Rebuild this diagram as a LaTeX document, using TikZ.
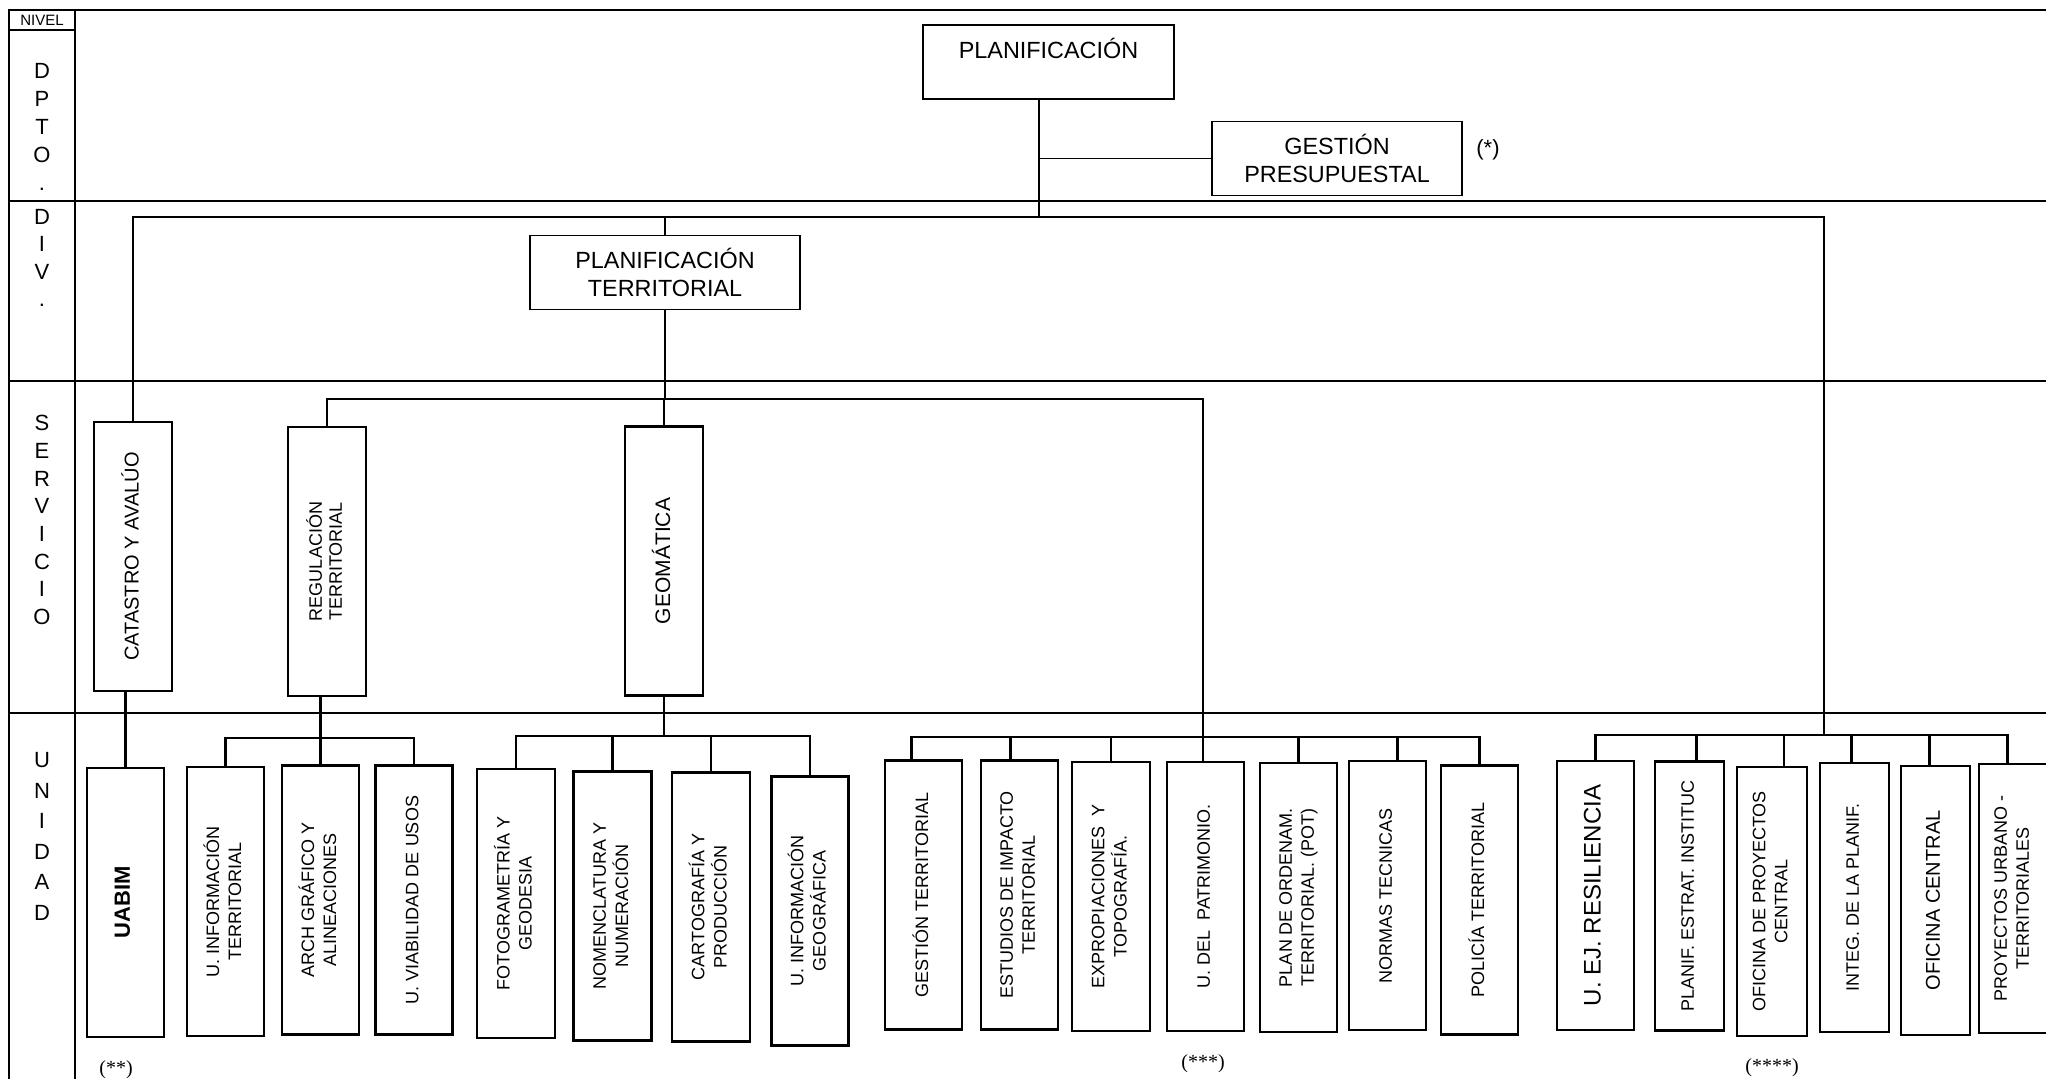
\documentclass[tikz,border=0pt]{standalone}
\usepackage{fontspec}
\setmainfont{Liberation Sans}
\newfontfamily\notefont{Liberation Serif}
\usepackage{graphicx}

\newcommand{\vtext}[1]{\rotatebox{90}{\begin{tabular}{@{}c@{}}#1\end{tabular}}}

\begin{document}
\begin{tikzpicture}[
    x=0.5pt, y=-0.5pt,
    every node/.style={inner sep=0pt},
    gridline/.style={line width=1pt},
    link/.style={line width=1.1pt},
    deptlink/.style={line width=0.8pt},
    deptbox/.style={
        draw,
        line width=0.7pt,
        minimum width=#1,
        minimum height=37pt,
        align=center,
        font=\fontsize{11.7}{13.8}\selectfont
    },
    servbox/.style={
        draw,
        line width=1.1pt,
        minimum width=39pt,
        minimum height=134.5pt,
        font=\fontsize{#1}{10}\selectfont
    },
    unitbox/.style={
        draw,
        line width=1.3pt,
        minimum width=#1,
        minimum height=134.5pt,
        font=\fontsize{9}{11}\selectfont
    },
    unitbox/.default=38.5pt,
    levellabel/.style={
        align=center,
        font=\fontsize{11}{#1}\selectfont
    },
    note/.style={font=\notefont\fontsize{10}{12}\selectfont}
]

    \useasboundingbox (0,0) rectangle (2046,1079);
    \clip (0,0) rectangle (2046,1079);

    % Level grid
    \draw[gridline] (9,1090) -- (9,10) -- (2060,10);
    \draw[gridline] (75,10) -- (75,1090);
    \draw[gridline] (9,30) -- (75,30);
    \foreach \y in {201,381,713}
        \draw[gridline] (9,\y) -- (2060,\y);

    % Level names
    \node[font=\fontsize{7.5}{9}\selectfont] (nivel) at (42,20) {NIVEL};
    \node[levellabel=14] (lvdpto) at (42,127) {D\\P\\T\\O\\.};
    \node[levellabel=13.8] (lvdiv) at (42,258) {D\\I\\V\\.};
    \node[levellabel=13.85] (lvserv) at (42,520) {S\\E\\R\\V\\I\\C\\I\\O};
    \node[levellabel=15.3] (lvunid) at (42,836.5) {U\\N\\I\\D\\A\\D};

    % Department
    \node[deptbox=125.5pt] (plan) at (1048.5,62) {PLANIFICACIÓN\\\mbox{}};
    \node[deptbox=125pt] (gestion) at (1337,158.5) {GESTIÓN\\PRESUPUESTAL};
    \node[font=\fontsize{11}{13}\selectfont] (notea) at (1488,150) {(*)};

    % Division
    \node[deptbox=135pt] (planter) at (665,272.5) {PLANIFICACIÓN\\TERRITORIAL};

    % Services
    \node[servbox=10] (catastro) at (133,556.5) {\vtext{CATASTRO Y AVALÚO}};
    \node[servbox=9] (regul) at (327,561.5) {\vtext{REGULACIÓN\\TERRITORIAL}};
    \node[servbox=10.5] (geom) at (664,561) {\vtext{GEOMÁTICA}};

    % Units under catastro and regulacion
    \node[unitbox] (uabim) at (125.5,902.5) {\vtext{\fontsize{11}{13}\selectfont\bfseries UABIM}};
    \node[unitbox] (uinf) at (225.5,901.5) {\vtext{U. INFORMACIÓN\\TERRITORIAL}};
    \node[unitbox] (arch) at (320.5,900) {\vtext{ARCH GRÁFICO Y\\ALINEACIONES}};
    \node[unitbox] (viab) at (414,900) {\vtext{U. VIABILIDAD DE USOS}};

    % Units under geomatica
    \node[unitbox=39pt] (foto) at (516,903.5) {\vtext{FOTOGRAMETRÍA Y\\GEODESIA}};
    \node[unitbox=39pt] (nomen) at (612.5,906) {\vtext{NOMENCLATURA Y\\NUMERACIÓN}};
    \node[unitbox=39pt] (carto) at (711,907) {\vtext{CARTOGRAFÍA Y\\PRODUCCIÓN}};
    \node[unitbox] (uig) at (810,911) {\vtext{U. INFORMACIÓN\\GEOGRÁFICA}};

    % Units under planificacion territorial
    \node[unitbox] (gestter) at (923.5,895) {\vtext{GESTIÓN TERRITORIAL}};
    \node[unitbox] (estud) at (1019.5,895) {\vtext{ESTUDIOS DE IMPACTO\\TERRITORIAL}};
    \node[unitbox=39pt] (expro) at (1111,896.5) {\vtext{EXPROPIACIONES\ \ Y\\TOPOGRAFÍA.}};
    \node[unitbox] (patri) at (1205.5,896.5) {\vtext{U. DEL\ \ PATRIMONIO.}};
    \node[unitbox] (planord) at (1298.5,897.5) {\vtext{PLAN DE ORDENAM.\\TERRITORIAL. (POT)}};
    \node[unitbox] (normas) at (1387.5,895.5) {\vtext{NORMAS TECNICAS}};
    \node[unitbox] (policia) at (1479.5,900) {\vtext{POLICÍA TERRITORIAL}};

    % Units on the right branch
    \node[unitbox] (resil) at (1595.5,895.5) {\vtext{\fontsize{12}{14}\selectfont U. EJ. RESILIENCIA}};
    \node[unitbox=34.5pt] (pestrat) at (1689.5,896) {\vtext{PLANIF. ESTRAT. INSTITUC}};
    \node[unitbox=35pt] (ofproy) at (1772,901.5) {\vtext{OFICINA DE PROYECTOS\\CENTRAL}};
    \node[unitbox=34.5pt] (integ) at (1854.5,897.5) {\vtext{INTEG. DE LA PLANIF.}};
    \node[unitbox=34.5pt] (ofcen) at (1935.5,900.5) {\vtext{\fontsize{10}{12}\selectfont OFICINA CENTRAL}};
    \node[unitbox=34.5pt] (proyurb) at (2013.5,898.5) {\vtext{PROYECTOS URBANO -\\TERRITORIALES}};

    % Notes
    \node[note] (noteb) at (116,1070) {(**)};
    \node[note] (notec) at (1203,1064) {(***)};
    \node[note] (noted) at (1772,1068) {(****)};

    % Bar joints
    \coordinate (deptjoin) at (1039,217);
    \coordinate (divright) at (1824,217);
    \coordinate (rightbar) at (1824,735);
    \coordinate (servright) at (1203,399);
    \coordinate (terrbar) at (1203,737);
    \coordinate (regbar) at (320,738);
    \coordinate (geombar) at (664,736);

    % Department links
    \draw[deptlink] (plan.south -| deptjoin) -- (deptjoin);
    \draw[deptlink] (deptjoin |- gestion.west) -- (gestion.west);

    % Division bar
    \draw[link] (catastro.north) |- (divright) -- (rightbar);
    \draw[link] (planter.north) -- (planter.north |- divright);

    % Service bar
    \draw[link] (regul.north) |- (servright) -- (servright |- patri.north);
    \draw[link] (planter.south) -- (planter.south |- servright);
    \draw[link] (geom.north) -- (geom.north |- servright);

    % Unit bars
    \draw[link] (uabim.north |- catastro.south) -- (uabim.north);

    \draw[link] (uinf.north) |- (regbar) -| (viab.north);
    \draw[link] (arch.north |- regul.south) -- (arch.north);

    \draw[link] (foto.north) |- (geombar) -| (uig.north);
    \draw[link] (geom.south) -- (geombar);
    \foreach \n in {nomen,carto}
        \draw[link] (\n.north) -- (\n.north |- geombar);

    \draw[link] ([xshift=-6pt]gestter.north) |- (terrbar) -| (policia.north);
    \draw[link] ([xshift=-4.5pt]estud.north) -- ([xshift=-4.5pt]estud.north |- terrbar);
    \draw[link] (expro.north) -- (expro.north |- terrbar);
    \draw[link] (planord.north) -- (planord.north |- terrbar);
    \draw[link] ([xshift=5pt]normas.north) -- ([xshift=5pt]normas.north |- terrbar);

    \draw[link] (resil.north) |- (rightbar) -| ([xshift=-3pt]proyurb.north);
    \draw[link] ([xshift=3.5pt]pestrat.north) -- ([xshift=3.5pt]pestrat.north |- rightbar);
    \draw[link] ([xshift=6pt]ofproy.north) -- ([xshift=6pt]ofproy.north |- rightbar);
    \draw[link] ([xshift=-1.5pt]integ.north) -- ([xshift=-1.5pt]integ.north |- rightbar);
    \draw[link] ([xshift=-3pt]ofcen.north) -- ([xshift=-3pt]ofcen.north |- rightbar);

\end{tikzpicture}
\end{document}
